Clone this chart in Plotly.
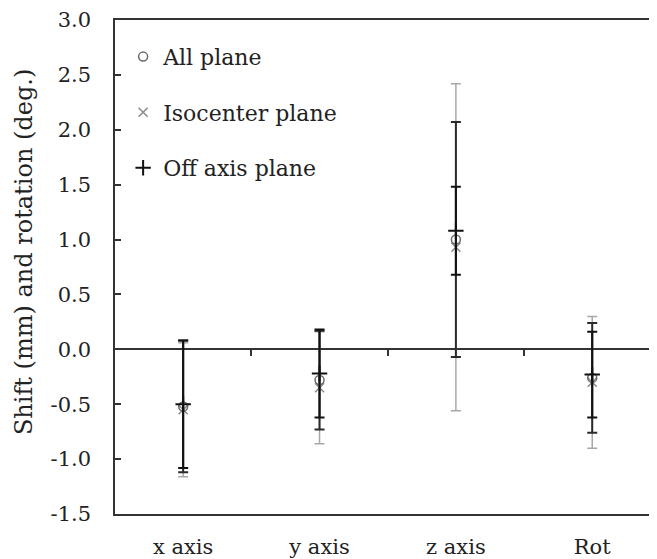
import plotly.graph_objects as go

categories = ["x axis", "y axis", "z axis", "Rot"]
all_mean = [-0.52, -0.28, 1.00, -0.26]
all_sd = [0.60, 0.45, 1.07, 0.50]
iso_mean = [-0.55, -0.35, 0.93, -0.30]
iso_sd = [0.61, 0.51, 1.49, 0.60]
off_mean = [-0.50, -0.22, 1.08, -0.23]
off_sd = [0.58, 0.40, 0.40, 0.39]
y_ticks = [-1.5, -1.0, -0.5, 0.0, 0.5, 1.0, 1.5, 2.0, 2.5, 3.0]
y_title = "Shift (mm) and rotation (deg.)"

FONT = "DejaVu Serif"
TXT = "#222222"
xidx = list(range(len(categories)))

fig = go.Figure()
fig.add_trace(go.Scatter(
    x=xidx, y=iso_mean, mode="markers", name="Isocenter plane",
    marker=dict(symbol="x-thin-open", size=9, color="#8a8a8a",
                line=dict(width=1.5, color="#8a8a8a")),
    error_y=dict(type="data", array=iso_sd, color="#a8a8a8", thickness=1.5, width=5),
    legendgroup="b", legendrank=2))
fig.add_trace(go.Scatter(
    x=xidx, y=all_mean, mode="markers", name="All plane",
    marker=dict(symbol="circle-open", size=9, color="#6a6a6a",
                line=dict(width=1.5, color="#6a6a6a")),
    error_y=dict(type="data", array=all_sd, color="#2a2a2a", thickness=2, width=5),
    legendgroup="a", legendrank=1))
fig.add_trace(go.Scatter(
    x=xidx, y=off_mean, mode="markers", name="Off axis plane",
    marker=dict(symbol="cross-thin-open", size=11, color="#111111",
                line=dict(width=2, color="#111111")),
    error_y=dict(type="data", array=off_sd, color="#111111", thickness=2, width=5),
    legendgroup="c", legendrank=3))

# invisible trace carrying the tick axis drawn on the zero line
fig.add_trace(go.Scatter(x=[0], y=[0], xaxis="x2", mode="markers",
                         marker=dict(opacity=0), showlegend=False, hoverinfo="skip"))

yr = [-1.5, 3.0]
fig.update_layout(
    width=649, height=550,
    margin=dict(l=107, r=0, t=12, b=44),
    paper_bgcolor="white", plot_bgcolor="white",
    font=dict(family=FONT, size=21, color=TXT),
    showlegend=True,
    legend=dict(x=0.015, y=0.968, xanchor="left", yanchor="top",
                bgcolor="rgba(0,0,0,0)", font=dict(size=22, family=FONT, color=TXT),
                tracegroupgap=24, traceorder="grouped", itemwidth=30),
    xaxis=dict(range=[-0.5, 3.475], tickmode="array", tickvals=xidx, ticktext=categories,
               showline=True, linecolor="#333", linewidth=1.5, mirror=True,
               ticks="", showgrid=False, zeroline=False, ticklabelstandoff=13,
               tickfont=dict(size=21, family=FONT, color=TXT)),
    xaxis2=dict(range=[-0.5, 3.475], overlaying="x", anchor="free",
                position=(0 - yr[0]) / (yr[1] - yr[0]),
                tickmode="array", tickvals=[0.5, 1.5, 2.5, 3.5], ticks="outside",
                ticklen=6, tickwidth=1.5, tickcolor="#333",
                showticklabels=False, showline=False, showgrid=False, zeroline=False),
    yaxis=dict(range=yr, tickmode="array", tickvals=y_ticks,
               ticktext=[f"{v:.1f}" for v in y_ticks],
               showline=True, linecolor="#333", linewidth=1.5,
               ticks="inside", ticklen=6, tickwidth=1.5, tickcolor="#333",
               showgrid=False, zeroline=True, zerolinecolor="#333", zerolinewidth=1.5,
               ticklabelstandoff=18,
               tickfont=dict(size=21, family=FONT, color=TXT)),
    annotations=[dict(text=y_title, textangle=-90, xref="paper", yref="paper",
                      x=-0.168, y=0.530, xanchor="center", yanchor="middle",
                      showarrow=False, font=dict(size=24, family=FONT, color=TXT))],
)

fig.write_html("out.html")
